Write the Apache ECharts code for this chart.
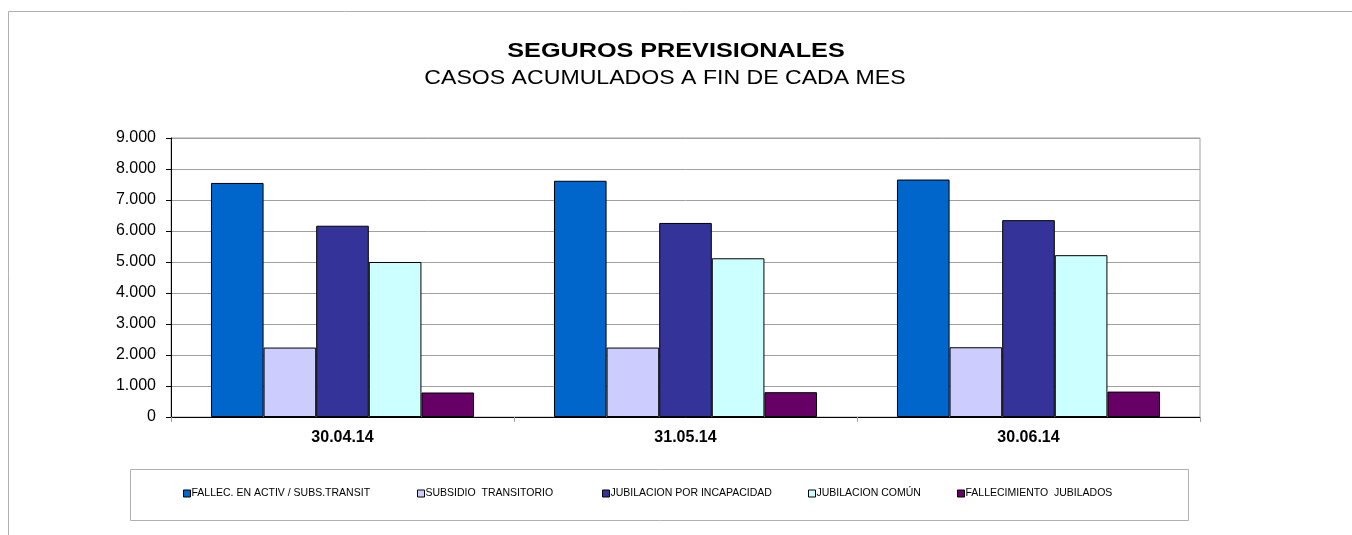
<!DOCTYPE html>
<html>
<head>
<meta charset="utf-8">
<script src="https://cdn.jsdelivr.net/npm/echarts@6/dist/echarts.min.js"></script>
<style>
  html, body { margin: 0; padding: 0; background: #fff; }
  #chart { width: 1352px; height: 535px; }
</style>
</head>
<body>
<div id="chart"></div>
<script>
// datos
const categories = ["30.04.14", "31.05.14", "30.06.14"];
const seriesNames = [
  "FALLEC. EN ACTIV / SUBS.TRANSIT",
  "SUBSIDIO  TRANSITORIO",
  "JUBILACION POR INCAPACIDAD",
  "JUBILACION COMÚN",
  "FALLECIMIENTO  JUBILADOS"
];
const fallecActiv = [7550, 7620, 7660];
const subsidioTransitorio = [2240, 2240, 2250];
const jubilacionIncapacidad = [6170, 6260, 6350];
const jubilacionComun = [5000, 5120, 5220];
const fallecJubilados = [790, 800, 820];
const colors = ["#0066CC", "#CCCCFF", "#333399", "#CCFFFF", "#660066"];
const legendLeft = [183, 417, 602, 808, 957];

const values = [fallecActiv, subsidioTransitorio, jubilacionIncapacidad, jubilacionComun, fallecJubilados];
const fmt = v => String(v).replace(/\B(?=(\d{3})+(?!\d))/g, ".");
const FONT = "'Liberation Sans', Arial, sans-serif";

const chart = echarts.init(document.getElementById("chart"));
chart.setOption({
  animation: false,
  color: colors,
  graphic: [
    { type: "rect", shape: { x: 8.5, y: 11.5, width: 1400, height: 600 }, style: { fill: "none", stroke: "#b0b0b0", lineWidth: 1 }, z: -10 },
    { type: "rect", shape: { x: 130.5, y: 469.5, width: 1058, height: 51 }, style: { fill: "none", stroke: "#b0b0b0", lineWidth: 1 }, z: -10 },
    // titulos (el original esta algo estirado en horizontal)
    {
      type: "text", x: 676, y: 51, scaleX: 1.2,
      style: { text: "SEGUROS PREVISIONALES", font: "bold 21px " + FONT, fill: "#000", textAlign: "center", textVerticalAlign: "middle" }
    },
    {
      type: "text", x: 665, y: 78, scaleX: 1.1,
      style: { text: "CASOS ACUMULADOS A FIN DE CADA MES", font: "21px " + FONT, fill: "#000", textAlign: "center", textVerticalAlign: "middle" }
    }
  ],
  legend: seriesNames.map((name, i) => ({
    data: [name],
    left: legendLeft[i],
    top: 488,
    itemWidth: 7,
    itemHeight: 7,
    itemGap: 0,
    padding: 0,
    icon: "rect",
    itemStyle: { borderColor: "#000", borderWidth: 1 },
    textStyle: { fontFamily: FONT, fontSize: 10.5, color: "#000", padding: [0, 0, 0, -4] }
  })),
  grid: {
    left: 171,
    right: 152,
    top: 138,
    bottom: 118,
    show: true,
    borderColor: "#a0a0a0",
    borderWidth: 1
  },
  xAxis: {
    type: "category",
    data: categories,
    axisLine: { lineStyle: { color: "#000", width: 1 } },
    axisTick: { show: true, length: 5, lineStyle: { color: "#a0a0a0" } },
    axisLabel: { fontFamily: FONT, fontSize: 16, fontWeight: "bold", color: "#000", margin: 13 }
  },
  yAxis: {
    type: "value",
    min: 0,
    max: 9000,
    interval: 1000,
    axisLine: { show: true, lineStyle: { color: "#000", width: 1 } },
    axisTick: { show: true, length: 5, lineStyle: { color: "#000" } },
    splitLine: { lineStyle: { color: "#a0a0a0", width: 1 } },
    axisLabel: { fontFamily: FONT, fontSize: 16, color: "#000", margin: 15, formatter: fmt }
  },
  series: seriesNames.map((name, i) => ({
    name: name,
    type: "bar",
    data: values[i],
    barGap: "0%",
    barCategoryGap: "23.3%",
    itemStyle: { color: colors[i], borderColor: "#000", borderWidth: 1 }
  }))
});
</script>
</body>
</html>
